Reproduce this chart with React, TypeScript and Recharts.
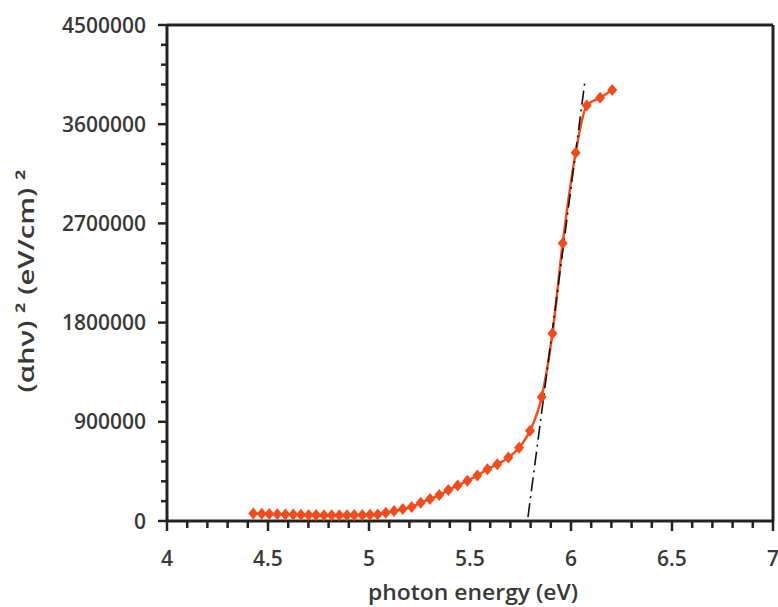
import { LineChart, Line, XAxis, YAxis, ReferenceLine } from 'recharts';

// photon energy (eV) and (αhν)² values
const energy = [
  4.427, 4.469, 4.506, 4.546, 4.586, 4.625, 4.663, 4.701, 4.738, 4.777,
  4.815, 4.853, 4.891, 4.927, 4.967, 5.005, 5.043, 5.083, 5.124, 5.167,
  5.211, 5.256, 5.302, 5.348, 5.393, 5.439, 5.487, 5.536, 5.586, 5.635,
  5.69, 5.743, 5.797, 5.855, 5.908, 5.959, 6.023, 6.078, 6.144, 6.204,
];
const absorption = [
  68000, 66000, 64000, 62000, 60000, 58000, 56000, 55000, 54000, 53000,
  53000, 53000, 53000, 54000, 55000, 57000, 60000, 75000, 90000, 108000,
  127000, 166000, 200000, 235000, 281000, 322000, 366000, 413000, 470000, 515000,
  575000, 665000, 818000, 1125000, 1700000, 2520000, 3340000, 3770000, 3840000, 3910000,
];

// Tauc extrapolation line
const tangentEnergy = [5.787, 6.069];
const tangentValue = [36000, 3990000];

const xTicks = [
  4, 4.1, 4.2, 4.3, 4.4, 4.5, 4.6, 4.7, 4.8, 4.9, 5, 5.1, 5.2, 5.3, 5.4, 5.5,
  5.6, 5.7, 5.8, 5.9, 6, 6.1, 6.2, 6.3, 6.4, 6.5, 6.6, 6.7, 6.8, 6.9, 7,
];
const xLabels = [4, 4.5, 5, 5.5, 6, 6.5, 7];
const yTicks = [
  0, 180000, 360000, 540000, 720000, 900000, 1080000, 1260000, 1440000, 1620000,
  1800000, 1980000, 2160000, 2340000, 2520000, 2700000, 2880000, 3060000, 3240000,
  3420000, 3600000, 3780000, 3960000, 4140000, 4320000, 4500000,
];
const yLabels = [0, 900000, 1800000, 2700000, 3600000, 4500000];

const series = energy.map((e, i) => ({ e, v: absorption[i] }));
const tangent = tangentEnergy.map((e, i) => ({ e, v: tangentValue[i] }));

const ORANGE = '#F44B1C';
const AXIS = '#222';
const TEXT = '#383838';
const FONT = '"Open Sans", sans-serif';

const isLabel = (list: number[], v: number) => list.some((m) => Math.abs(m - v) < 1e-6);

const XTick = (props: any) => {
  const { x, y, payload } = props;
  const major = isLabel(xLabels, payload.value);
  return (
    <g>
      <line x1={x} x2={x} y1={y} y2={y + (major ? 10 : 7)} stroke={AXIS} strokeWidth={2.5} />
      {major && (
        <text x={x} y={y + 45} textAnchor="middle" fontFamily={FONT} fontWeight={600} fontSize={21} fill={TEXT}>
          {String(payload.value)}
        </text>
      )}
    </g>
  );
};

const YTick = (props: any) => {
  const { x, y, payload } = props;
  const major = isLabel(yLabels, payload.value);
  return (
    <g>
      <line x1={x} x2={x - (major ? 9 : 6)} y1={y} y2={y} stroke={AXIS} strokeWidth={2.5} />
      {major && (
        <text x={x - 21} y={y} dy="0.36em" textAnchor="end" fontFamily={FONT} fontWeight={600} fontSize={21} fill={TEXT}>
          {String(payload.value)}
        </text>
      )}
    </g>
  );
};

const Diamond = (props: any) => {
  const { cx, cy, index } = props;
  if (cx == null || cy == null) return <g key={`d-${index}`} />;
  return (
    <path
      key={`d-${index}`}
      d={`M${cx},${cy - 6}L${cx + 5},${cy}L${cx},${cy + 6}L${cx - 5},${cy}Z`}
      fill={ORANGE}
      stroke="none"
    />
  );
};

export default function App() {
  return (
    <div style={{ position: 'absolute', left: 0, top: 0, background: '#fff' }}>
      <LineChart width={778} height={607} margin={{ top: 25, right: 5, left: 0, bottom: 0 }}>
        <XAxis
          type="number"
          dataKey="e"
          domain={[4, 7]}
          ticks={xTicks}
          interval={0}
          allowDataOverflow
          height={86}
          tickSize={0}
          tickMargin={0}
          tick={<XTick />}
          axisLine={{ stroke: AXIS, strokeWidth: 3 }}
          label={() => (
            <text
              x={473}
              y={600}
              textAnchor="middle"
              textLength={210}
              lengthAdjust="spacingAndGlyphs"
              fontFamily={FONT}
              fontWeight={600}
              fontSize={22}
              fill={TEXT}
            >
              photon energy (eV)
            </text>
          )}
        />
        <YAxis
          type="number"
          domain={[0, 4500000]}
          ticks={yTicks}
          interval={0}
          allowDataOverflow
          width={167}
          tickSize={0}
          tickMargin={0}
          tick={<YTick />}
          axisLine={{ stroke: AXIS, strokeWidth: 3 }}
          label={() => (
            <text
              x={26}
              y={281}
              transform="rotate(-90 26 281)"
              dy="0.36em"
              textAnchor="middle"
              textLength={223}
              lengthAdjust="spacingAndGlyphs"
              fontFamily={FONT}
              fontWeight={600}
              fontSize={22}
              fill={TEXT}
            >
              (αhν) ² (eV/cm) ²
            </text>
          )}
        />
        <ReferenceLine y={4500000} stroke={AXIS} strokeWidth={3} />
        <ReferenceLine x={7} stroke={AXIS} strokeWidth={3} />
        <Line
          data={series}
          dataKey="v"
          type="monotone"
          stroke={ORANGE}
          strokeWidth={2.5}
          dot={Diamond}
          activeDot={false}
          isAnimationActive={false}
        />
        <Line
          data={tangent}
          dataKey="v"
          type="linear"
          stroke="#111"
          strokeWidth={1.6}
          strokeDasharray="14 5 2 5"
          dot={false}
          activeDot={false}
          isAnimationActive={false}
        />
      </LineChart>
    </div>
  );
}
